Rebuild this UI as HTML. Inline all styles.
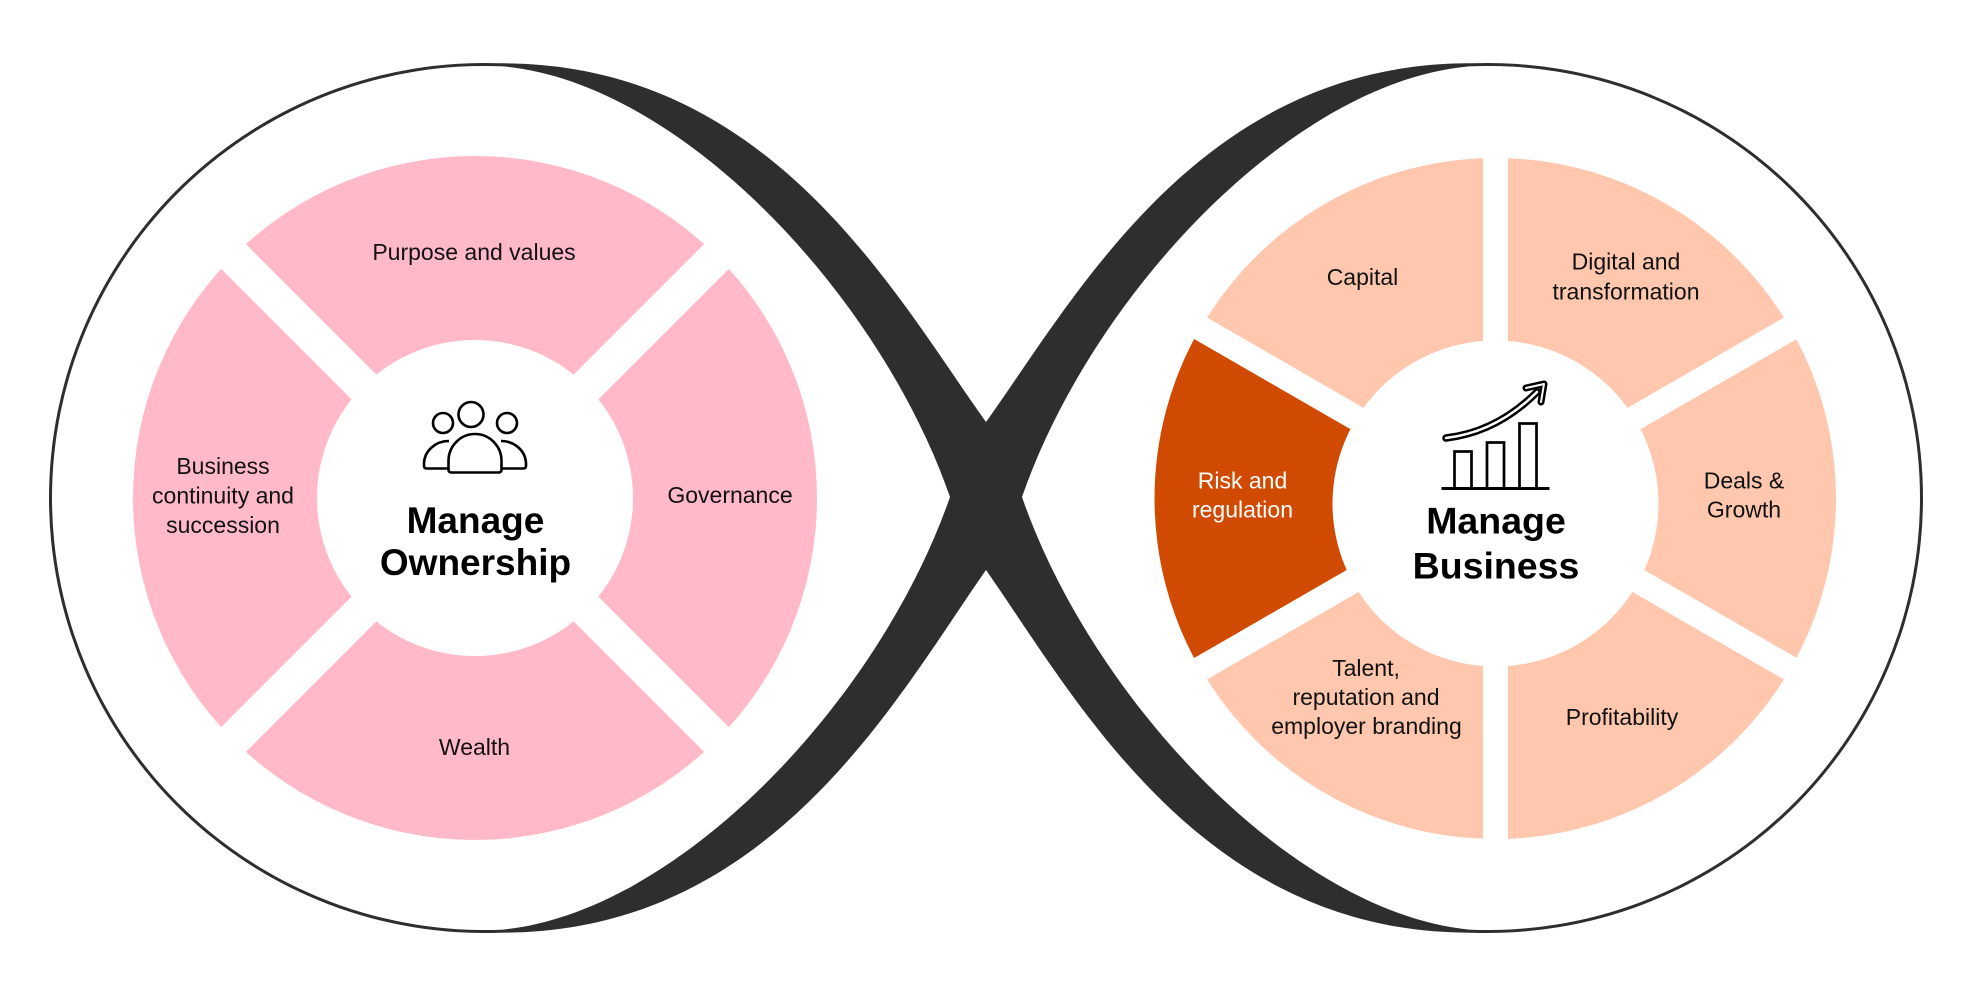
<!DOCTYPE html>
<html>
<head>
<meta charset="utf-8">
<style>
html,body{margin:0;padding:0;background:#fff;}
svg{display:block;}
text{font-family:"Liberation Sans",Arial,sans-serif;}
.lbl{font-size:23px;fill:#111;text-anchor:middle;}
.ttl{font-size:37px;font-weight:bold;fill:#000;text-anchor:middle;}
</style>
</head>
<body>
<svg width="1972" height="997" viewBox="0 0 1972 997" xmlns="http://www.w3.org/2000/svg">
  <rect width="1972" height="997" fill="#fff"/>

  <!-- Infinity ribbon -->
  <path d="M500,63.3 C770,62 895,295 986,422 C1077,295 1202,62 1472,63.3 A435,435 0 0 1 1923,498 A435,435 0 0 1 1472,932.7 C1202,934 1077,700 986,570 C895,700 770,934 500,932.7 A435,435 0 0 1 49,498 A435,435 0 0 1 500,63.3 Z" fill="#2e2e2e"/>
  <path d="M503,66.4 C680,82 880,295 950,497 C880,699 680,912 503,929.6 A432,432 0 0 1 52,498 A432,432 0 0 1 503,66.4 Z" fill="#fff"/>
  <path d="M1469,66.4 C1292,82 1092,295 1022,497 C1092,699 1292,912 1469,929.6 A432,432 0 0 0 1920,498 A432,432 0 0 0 1469,66.4 Z" fill="#fff"/>

  <!-- Left ring -->
  <circle cx="475" cy="498" r="342" fill="#ffb9c9"/>
  <g stroke="#fff" stroke-width="35">
    <line x1="233" y1="256" x2="717" y2="740"/>
    <line x1="233" y1="740" x2="717" y2="256"/>
  </g>
  <circle cx="475" cy="498" r="158" fill="#fff"/>

  <!-- Right ring -->
  <circle cx="1495.5" cy="498.5" r="340.5" fill="#fec7ae"/>
  <path d="M1495.5,498.5 L1200.2,328 A341,341 0 0 0 1200.2,669 Z" fill="#d04a02"/>
  <g stroke="#fff" stroke-width="25">
    <line x1="1495.5" y1="150" x2="1495.5" y2="847"/>
    <line x1="1196.7" y1="671" x2="1794.3" y2="326"/>
    <line x1="1196.7" y1="326" x2="1794.3" y2="671"/>
  </g>
  <circle cx="1495.5" cy="503.5" r="163" fill="#fff"/>

  <!-- People icon -->
  <g fill="#fff" stroke="#000" stroke-width="2.6" stroke-linejoin="round">
    <path d="M449,441 A25,23 0 0 0 424,463 L424,466 Q424,468.5 427,468.5 L449,468.5"/>
    <path d="M501,441 A25,23 0 0 1 526,463 L526,466 Q526,468.5 523,468.5 L501,468.5"/>
    <circle cx="443" cy="423" r="10"/>
    <circle cx="507" cy="423" r="10"/>
    <path d="M448.5,469.5 L448.5,461 A26.5,27 0 0 1 501.5,461 L501.5,469.5 Q501.5,472.5 498.5,472.5 L451.5,472.5 Q448.5,472.5 448.5,469.5 Z"/>
    <circle cx="471" cy="414.5" r="12.5"/>
  </g>

  <!-- Chart icon -->
  <g fill="#fff" stroke="#000" stroke-width="2.7">
    <rect x="1454.5" y="451.5" width="17" height="37"/>
    <rect x="1487" y="442.5" width="17" height="46"/>
    <rect x="1519.5" y="423.5" width="17" height="65"/>
    <line x1="1441.5" y1="488.5" x2="1549.5" y2="488.5" stroke-width="3"/>
  </g>
  <g fill="none" stroke-linecap="round" stroke-linejoin="round">
    <path d="M1446,438 Q1497,432 1537,392" stroke="#000" stroke-width="7.5"/>
    <path d="M1446,438 Q1497,432 1537,392" stroke="#fff" stroke-width="2.5"/>
    <polyline points="1526,388 1544,384 1541,402" stroke="#000" stroke-width="7"/>
    <polyline points="1526,388 1544,384 1541,402" stroke="#fff" stroke-width="2"/>
  </g>

  <!-- Left labels -->
  <text class="lbl" x="474" y="260">Purpose and values</text>
  <text class="lbl" x="223" y="474">Business</text>
  <text class="lbl" x="223" y="503.5">continuity and</text>
  <text class="lbl" x="223" y="533">succession</text>
  <text class="lbl" x="730" y="503">Governance</text>
  <text class="lbl" x="474.5" y="755">Wealth</text>
  <text class="ttl" x="475.5" y="533">Manage</text>
  <text class="ttl" x="475.5" y="575">Ownership</text>

  <!-- Right labels -->
  <text class="lbl" x="1362.5" y="285">Capital</text>
  <text class="lbl" x="1626" y="269.5">Digital and</text>
  <text class="lbl" x="1626" y="299.5">transformation</text>
  <text class="lbl" x="1242.5" y="488.5" style="fill:#fff">Risk and</text>
  <text class="lbl" x="1242.5" y="517.5" style="fill:#fff">regulation</text>
  <text class="lbl" x="1744" y="488.5">Deals &amp;</text>
  <text class="lbl" x="1744" y="517.5">Growth</text>
  <text class="lbl" x="1366" y="676">Talent,</text>
  <text class="lbl" x="1366" y="705">reputation and</text>
  <text class="lbl" x="1366.5" y="734">employer branding</text>
  <text class="lbl" x="1622" y="725">Profitability</text>
  <text class="ttl" x="1496" y="533.5" style="font-size:37.5px">Manage</text>
  <text class="ttl" x="1496" y="578.5" style="font-size:37.5px">Business</text>
</svg>
</body>
</html>
